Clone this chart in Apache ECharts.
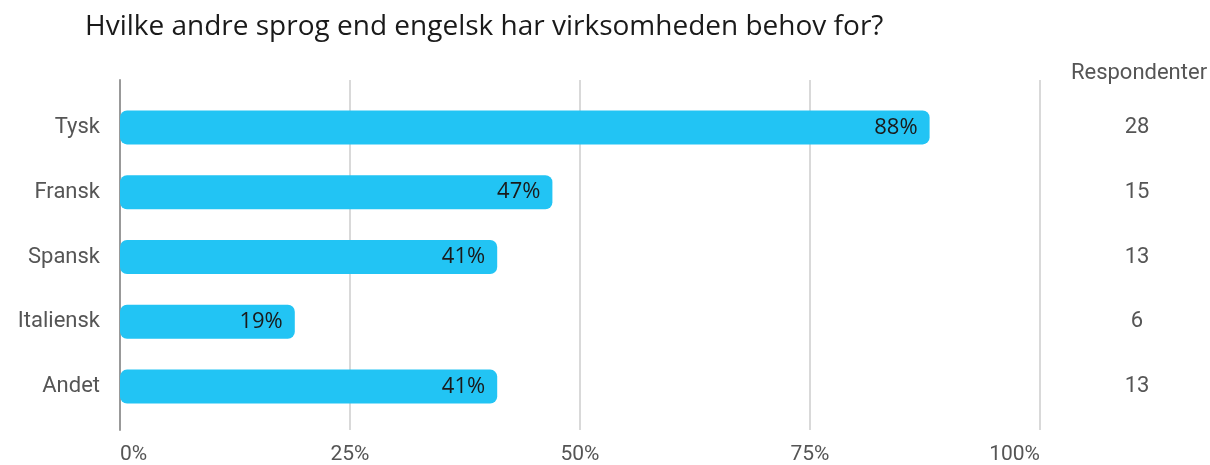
<!DOCTYPE html>
<html>
<head>
<meta charset="utf-8">
<script src="https://cdn.jsdelivr.net/npm/echarts@6/dist/echarts.min.js"></script>
<style>
  html, body { margin: 0; padding: 0; background: #fff; }
  #chart { width: 1210px; height: 465px; }
</style>
</head>
<body>
<div id="chart"></div>
<script>
// Languages asked about, share of respondents (%) and respondent counts
const languages = ['Tysk', 'Fransk', 'Spansk', 'Italiensk', 'Andet'];
const shares = [88, 47, 41, 19, 41];
const respondents = [28, 15, 13, 6, 13];
const tickValues = [0, 25, 50, 75, 100];

const chart = echarts.init(document.getElementById('chart'));

const option = {
  backgroundColor: '#ffffff',
  animation: false,
  title: [
    {
      text: 'Hvilke andre sprog end engelsk har virksomheden behov for?',
      left: 80, top: 8,
      textStyle: { fontFamily: 'Open Sans', fontSize: 28, fontWeight: 'normal', color: '#1a1a1a' }
    },
    {
      text: 'Respondenter',
      left: 1134, top: 57, textAlign: 'center',
      textStyle: { fontFamily: 'Roboto', fontSize: 22, fontWeight: 'normal', color: '#555555' }
    }
  ],
  grid: [
    // full-height grid carrying the vertical gridlines and percent ticks
    { left: 120, width: 920, top: 80, bottom: 33 },
    // bar grid
    { left: 120, width: 920, top: 95, height: 324 }
  ],
  xAxis: [
    {
      gridIndex: 0, type: 'value', min: 0, max: 100, interval: 25,
      axisLine: { show: false }, axisTick: { show: false },
      splitLine: { lineStyle: { color: '#cccccc', width: 1.5 } },
      axisLabel: {
        fontFamily: 'Roboto', fontSize: 21, color: '#555555', margin: 14,
        alignMinLabel: 'left', alignMaxLabel: 'right',
        formatter: v => (tickValues.includes(v) ? v + '%' : '')
      }
    },
    {
      gridIndex: 1, type: 'value', min: 0, max: 100,
      show: false
    }
  ],
  yAxis: [
    {
      gridIndex: 0, type: 'category', data: languages,
      axisLine: { show: true, lineStyle: { color: '#999999', width: 2 } },
      axisTick: { show: false }, axisLabel: { show: false }, splitLine: { show: false }
    },
    {
      gridIndex: 1, type: 'category', data: languages, inverse: true,
      axisLine: { show: false }, axisTick: { show: false },
      axisLabel: { fontFamily: 'Roboto', fontSize: 22, color: '#555555', margin: 20 }
    },
    {
      gridIndex: 1, type: 'category', data: respondents.map(String), inverse: true,
      position: 'right',
      axisLine: { show: false }, axisTick: { show: false },
      axisLabel: { fontFamily: 'Roboto', fontSize: 22, color: '#555555', margin: 97, align: 'center' }
    }
  ],
  series: [
    {
      type: 'bar',
      xAxisIndex: 1, yAxisIndex: 1,
      data: shares,
      barWidth: 34,
      itemStyle: { color: '#22c4f4', borderRadius: 7 },
      label: {
        show: true, position: 'insideRight', distance: 12,
        formatter: p => p.value + '%',
        fontFamily: 'Open Sans', fontSize: 22, color: '#1a1a1a'
      }
    }
  ]
};

chart.setOption(option);
</script>
</body>
</html>
